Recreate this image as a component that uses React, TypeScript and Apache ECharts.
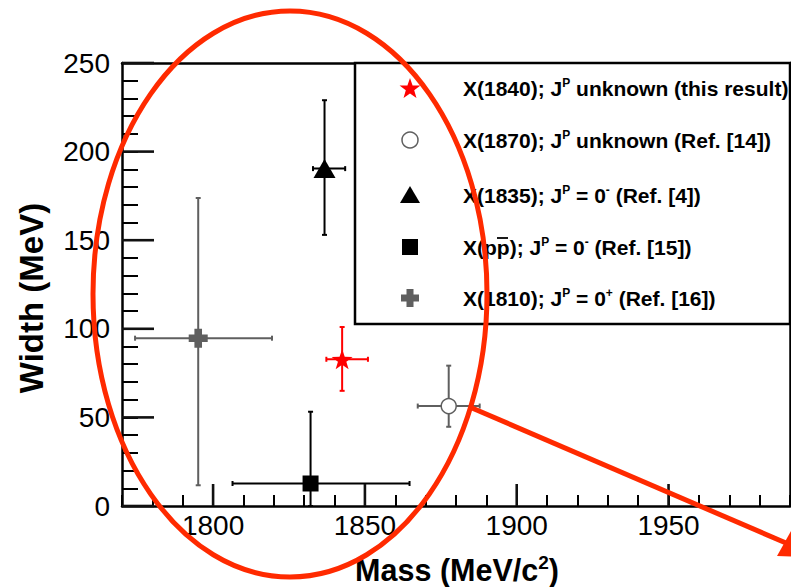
import React, { useEffect, useRef } from "react";
import * as echarts from "echarts";

// ---------- data ----------
const labels = ["X(1840)", "X(1870)", "X(1835)", "X(pp̅)", "X(1810)"];
const massCenter = [1842.5, 1877.6, 1836.7, 1832.1, 1795.1];
const massLow = [1837.3, 1867.4, 1832.9, 1806.4, 1774.3];
const massHigh = [1851.0, 1887.8, 1843.5, 1864.7, 1819.4];
const widthCenter = [82.8, 56.4, 190.4, 12.7, 94.7];
const widthLow = [65.0, 44.7, 153.0, 0, 11.7];
const widthHigh = [101.0, 79.2, 229.0, 53.2, 173.8];

const legendLabels = [
  "X(1840); J{s|P} unknown (this result)",
  "X(1870); J{s|P} unknown (Ref. [14])",
  "X(1835); J{s|P} = 0{s|-} (Ref. [4])",
  "X(pp); J{s|P} = 0{s|-} (Ref. [15])",
  "X(1810); J{s|P} = 0{s|+} (Ref. [16])",
];

const xMajor = [1800, 1850, 1900, 1950];
const yMajor = [0, 50, 100, 150, 200, 250];
const xMin = 1770;
const xMax = 1990;
const yMin = 0;
const yMax = 250;

// ---------- styles ----------
const FONT = '"Liberation Sans", Arial, Helvetica, sans-serif';
const markerColors = ["#ff0000", "#ffffff", "#000000", "#000000", "#5f5f5f"];
const borderColors = ["#ff0000", "#5f5f5f", "#000000", "#000000", "#5f5f5f"];
const barColors = ["#ff0000", "#5f5f5f", "#000000", "#000000", "#5f5f5f"];
const ANNOT = "#ff2a00";
const MAJOR_TICK = "#111111";

function starPts(R: number, r: number, cx = 0, cy = 0): number[][] {
  const pts: number[][] = [];
  for (let i = 0; i < 10; i++) {
    const a = -Math.PI / 2 + (i * Math.PI) / 5;
    const rad = i % 2 === 0 ? R : r;
    pts.push([cx + rad * Math.cos(a), cy + rad * Math.sin(a)]);
  }
  return pts;
}
const starPath =
  "path://M" + starPts(1, 0.4).map((p) => p[0].toFixed(3) + "," + p[1].toFixed(3)).join("L") + "Z";
const crossPath = "path://M-1.2,-3H1.2V-1.2H3V1.2H1.2V3H-1.2V1.2H-3V-1.2H-1.2Z";
const symbols = [starPath, "circle", "triangle", "rect", crossPath];
const symbolSizes: any[] = [[21, 20], 15, [22, 19], 16, 19];

function crossPts(cx: number, cy: number, s: number, t: number): number[][] {
  const h = s / 2, w = t / 2;
  return [
    [cx - w, cy - h], [cx + w, cy - h], [cx + w, cy - w], [cx + h, cy - w],
    [cx + h, cy + w], [cx + w, cy + w], [cx + w, cy + h], [cx - w, cy + h],
    [cx - w, cy + w], [cx - h, cy + w], [cx - h, cy - w], [cx - w, cy - w],
  ];
}

export default function App() {
  const ref = useRef<HTMLDivElement>(null);
  useEffect(() => {
    if (!ref.current) return;
    const chart = echarts.init(ref.current, undefined, { renderer: "svg" });

    const errData = massCenter.map((m, i) => [
      m, widthCenter[i], massLow[i], massHigh[i], widthLow[i], widthHigh[i], i,
    ]);

    const axisLineStyle = { color: "#000", width: 2.5 };
    const tickStyle = { color: "#000", width: 2 };

    const scatterSeries = labels.map((name, i) => ({
      type: "scatter",
      name,
      z: 5,
      symbol: symbols[i],
      symbolSize: symbolSizes[i],
      itemStyle: {
        color: markerColors[i],
        borderColor: borderColors[i],
        borderWidth: i === 1 ? 1.5 : 0,
        opacity: 1,
      },
      data: [[massCenter[i], widthCenter[i]]],
    }));

    // legend graphic
    const rowY = [88, 140, 195, 247, 298];
    const mx = 410;
    const legendEls: any[] = [
      {
        type: "rect",
        shape: { x: 355, y: 63, width: 435, height: 261 },
        style: { fill: "#fff", stroke: "#000", lineWidth: 2.5 },
        z: 100,
      },
      { type: "polygon", shape: { points: starPts(11, 4.4, mx, rowY[0] + 1) }, style: { fill: "#ff0000" }, z: 101 },
      { type: "circle", shape: { cx: mx, cy: rowY[1], r: 8 }, style: { fill: "#fff", stroke: "#5f5f5f", lineWidth: 1.5 }, z: 101 },
      {
        type: "polygon",
        shape: { points: [[mx, rowY[2] - 9], [mx + 10, rowY[2] + 8], [mx - 10, rowY[2] + 8]] },
        style: { fill: "#000" },
        z: 101,
      },
      { type: "rect", shape: { x: mx - 8, y: rowY[3] - 8, width: 16, height: 16 }, style: { fill: "#000" }, z: 101 },
      { type: "polygon", shape: { points: crossPts(mx, rowY[4], 18, 7) }, style: { fill: "#5f5f5f" }, z: 101 },
    ];
    legendLabels.forEach((t, i) => {
      legendEls.push({
        type: "text",
        x: 463,
        y: rowY[i],
        z: 101,
        style: {
          text: t,
          fill: "#000",
          fontFamily: FONT,
          fontSize: 21,
          fontWeight: "bold",
          verticalAlign: "middle",
          align: "left",
          rich: {
            s: { fontSize: 12, fontWeight: "bold", fontFamily: FONT, fill: "#000", padding: [0, 0, 11, 0] },
          },
        },
      });
    });
    legendEls.push({
      type: "line",
      shape: { x1: 497, y1: rowY[3] - 9, x2: 508, y2: rowY[3] - 9 },
      style: { stroke: "#000", lineWidth: 1.8 },
      z: 102,
    });

    const option: any = {
      animation: false,
      grid: { left: 122, right: 1, top: 63, bottom: 81, containLabel: false },
      xAxis: [
        {
          type: "value", min: xMin, max: xMax, interval: 10, position: "bottom",
          axisLine: { show: true, onZero: false, lineStyle: axisLineStyle },
          axisTick: { show: true, inside: true, length: 11, lineStyle: tickStyle },
          axisLabel: {
            show: true, customValues: xMajor, fontSize: 28, color: "#000", fontFamily: FONT, margin: 5,
            formatter: (v: number) => String(v),
          },
          splitLine: { show: false },
        },
        {
          type: "value", min: xMin, max: xMax, position: "top",
          axisLine: { show: true, onZero: false, lineStyle: axisLineStyle },
          axisTick: { show: false }, axisLabel: { show: false }, splitLine: { show: false },
        },
      ],
      yAxis: [
        {
          type: "value", min: yMin, max: yMax, interval: 10, position: "left",
          axisLine: { show: true, onZero: false, lineStyle: axisLineStyle },
          axisTick: { show: true, inside: true, length: 16, lineStyle: tickStyle },
          axisLabel: {
            customValues: yMajor, fontSize: 28, color: "#000", fontFamily: FONT, margin: 12, padding: [8, 0, 0, 0],
            formatter: (v: number) => String(v),
          },
          splitLine: { show: false },
        },
        {
          type: "value", min: yMin, max: yMax, position: "right",
          axisLine: { show: true, onZero: false, lineStyle: axisLineStyle },
          axisTick: { show: false }, axisLabel: { show: false }, splitLine: { show: false },
        },
      ],
      series: [
        {
          type: "custom",
          name: "xMajorTicks",
          z: 4,
          data: xMajor.map((v) => [v, yMin]),
          encode: { x: 0, y: 1 },
          renderItem: (params: any, api: any) => {
            const p = api.coord([api.value(0), api.value(1)]);
            return {
              type: "group",
              children: [
                { type: "line", shape: { x1: p[0], y1: p[1], x2: p[0], y2: p[1] - 22 }, style: { stroke: MAJOR_TICK, lineWidth: 2.6 } },
              ],
            };
          },
        },
        {
          type: "custom",
          name: "yMajorTicks",
          clip: false,
          z: 4,
          data: yMajor.map((v) => [xMin, v]),
          encode: { x: 0, y: 1 },
          renderItem: (params: any, api: any) => {
            const p = api.coord([api.value(0), api.value(1)]);
            return { type: "line", shape: { x1: p[0], y1: p[1], x2: p[0] + 32, y2: p[1] }, style: { stroke: MAJOR_TICK, lineWidth: 2.6 } };
          },
        },
        {
          type: "custom",
          name: "errors",
          z: 3,
          data: errData,
          encode: { x: 0, y: 1 },
          renderItem: (params: any, api: any) => {
            const i = api.value(6);
            const xl = api.coord([api.value(2), api.value(1)]);
            const xh = api.coord([api.value(3), api.value(1)]);
            const yl = api.coord([api.value(0), api.value(4)]);
            const yh = api.coord([api.value(0), api.value(5)]);
            const st = { stroke: barColors[i], lineWidth: 2 };
            const c = 2.5;
            return {
              type: "group",
              children: [
                { type: "line", shape: { x1: xl[0], y1: xl[1], x2: xh[0], y2: xh[1] }, style: st },
                { type: "line", shape: { x1: yl[0], y1: yl[1], x2: yh[0], y2: yh[1] }, style: st },
                { type: "line", shape: { x1: xl[0], y1: xl[1] - c, x2: xl[0], y2: xl[1] + c }, style: st },
                { type: "line", shape: { x1: xh[0], y1: xh[1] - c, x2: xh[0], y2: xh[1] + c }, style: st },
                { type: "line", shape: { x1: yl[0] - c, y1: yl[1], x2: yl[0] + c, y2: yl[1] }, style: st },
                { type: "line", shape: { x1: yh[0] - c, y1: yh[1], x2: yh[0] + c, y2: yh[1] }, style: st },
              ],
            };
          },
        },
        ...scatterSeries,
      ],
      graphic: [
        ...legendEls,
        {
          type: "text",
          x: 31,
          y: 298,
          rotation: Math.PI / 2,
          z: 50,
          style: {
            text: "Width (MeV)",
            fill: "#000",
            fontFamily: FONT,
            fontSize: 33,
            fontWeight: "bold",
            align: "center",
            verticalAlign: "middle",
          },
        },
        {
          type: "text",
          x: 457,
          y: 570,
          z: 50,
          style: {
            text: "Mass (MeV/c{s|2})",
            fill: "#000",
            fontFamily: FONT,
            fontSize: 30.5,
            fontWeight: "bold",
            align: "center",
            verticalAlign: "middle",
            rich: {
              s: { fontSize: 19, fontWeight: "bold", fontFamily: FONT, fill: "#000", padding: [0, 0, 16, 0] },
            },
          },
        },
        {
          type: "ellipse",
          shape: { cx: 290, cy: 294, rx: 197, ry: 283 },
          style: { fill: "none", stroke: ANNOT, lineWidth: 5 },
          z: 200,
        },
        {
          type: "line",
          shape: { x1: 472, y1: 408, x2: 786, y2: 543 },
          style: { stroke: ANNOT, lineWidth: 5 },
          z: 200,
        },
        {
          type: "polygon",
          shape: { points: [[777, 556], [791, 531], [812, 557]] },
          style: { fill: ANNOT },
          z: 200,
        },
      ],
    };
    chart.setOption(option);
    return () => chart.dispose();
  }, []);
  return (
    <div
      ref={ref}
      style={{ position: "fixed", left: 0, top: 0, width: 791, height: 587, background: "#fff" }}
    />
  );
}
